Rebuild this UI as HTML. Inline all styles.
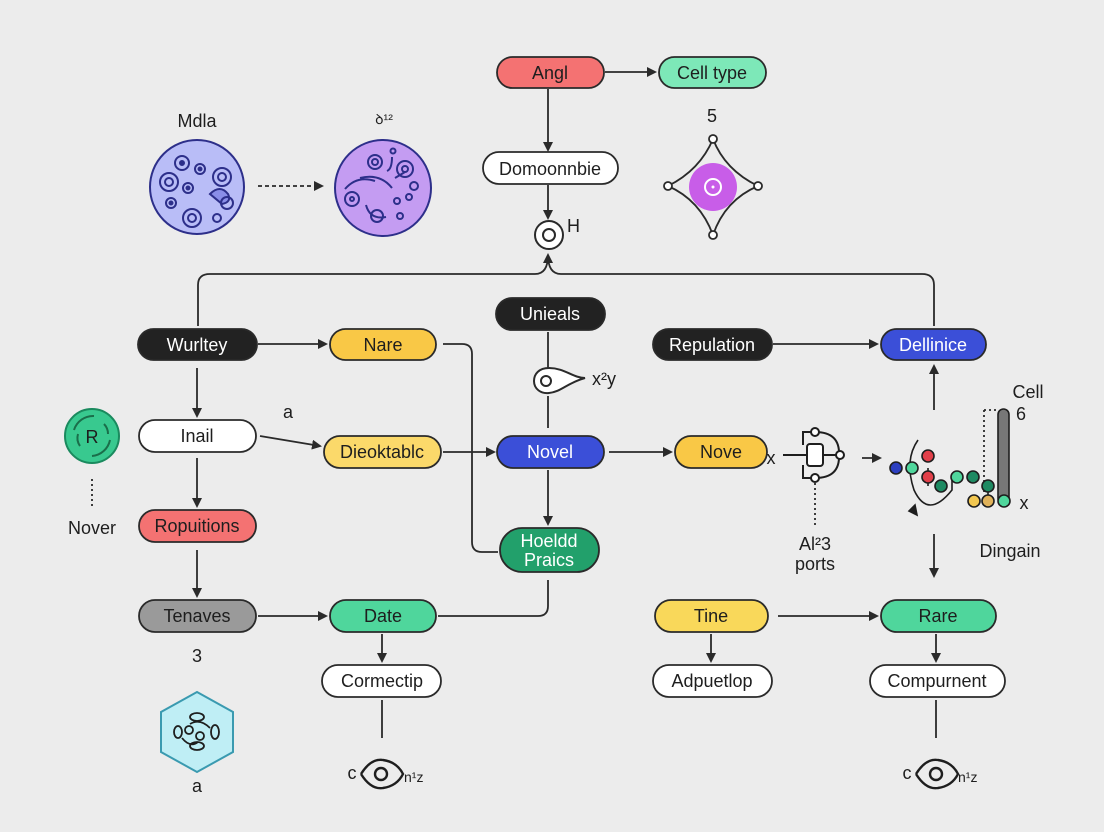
<!DOCTYPE html>
<html><head><meta charset="utf-8"><style>
html,body{margin:0;padding:0;background:#ececec;}
svg{display:block;}
text{font-family:"Liberation Sans","DejaVu Sans",sans-serif;}
</style></head><body>
<svg width="1104" height="832" viewBox="0 0 1104 832" xmlns="http://www.w3.org/2000/svg">
<defs>
<marker id="a" markerWidth="10" markerHeight="10" refX="8" refY="5" orient="auto" markerUnits="userSpaceOnUse"><path d="M0,0 L10,5 L0,10 Z" fill="#2a2a2a"/></marker>
</defs>
<rect width="1104" height="832" fill="#ececec"/>
<g stroke="#2a2a2a" stroke-width="1.8" fill="none">
<line x1="605" y1="72" x2="655" y2="72" marker-end="url(#a)"/>
<line x1="548" y1="89" x2="548" y2="150" marker-end="url(#a)"/>
<line x1="548" y1="185" x2="548" y2="218" marker-end="url(#a)"/>
<path d="M198,326 V285 Q198,274 210,274 H535 Q548,274 548,255" marker-end="url(#a)"/>
<path d="M934,326 V285 Q934,274 922,274 H561 Q548,274 548,255"/>
<line x1="258" y1="186" x2="322" y2="186" stroke-dasharray="4,3" marker-end="url(#a)"/>
<line x1="258" y1="344" x2="326" y2="344" marker-end="url(#a)"/>
<line x1="773" y1="344" x2="877" y2="344" marker-end="url(#a)"/>
<path d="M443,344 H462 Q472,344 472,354 V542 Q472,552 482,552 H498"/>
<line x1="548" y1="332" x2="548" y2="368"/>
<line x1="548" y1="396" x2="548" y2="428"/>
<line x1="197" y1="368" x2="197" y2="416" marker-end="url(#a)"/>
<line x1="260" y1="436" x2="320" y2="446" marker-end="url(#a)"/>
<line x1="443" y1="452" x2="494" y2="452" marker-end="url(#a)"/>
<line x1="609" y1="452" x2="671" y2="452" marker-end="url(#a)"/>
<line x1="548" y1="470" x2="548" y2="524" marker-end="url(#a)"/>
<line x1="197" y1="458" x2="197" y2="506" marker-end="url(#a)"/>
<line x1="197" y1="550" x2="197" y2="596" marker-end="url(#a)"/>
<line x1="258" y1="616" x2="326" y2="616" marker-end="url(#a)"/>
<path d="M438,616 H538 Q548,616 548,606 V580"/>
<line x1="382" y1="634" x2="382" y2="661" marker-end="url(#a)"/>
<line x1="382" y1="700" x2="382" y2="738"/>
<line x1="934" y1="410" x2="934" y2="366" marker-end="url(#a)"/>
<line x1="934" y1="534" x2="934" y2="576" marker-end="url(#a)"/>
<line x1="862" y1="458" x2="880" y2="458" marker-end="url(#a)"/>
<line x1="778" y1="616" x2="877" y2="616" marker-end="url(#a)"/>
<line x1="711" y1="634" x2="711" y2="661" marker-end="url(#a)"/>
<line x1="936" y1="634" x2="936" y2="661" marker-end="url(#a)"/>
<line x1="936" y1="700" x2="936" y2="738"/>
<line x1="92" y1="479" x2="92" y2="508" stroke-dasharray="2,3"/>
<line x1="815" y1="478" x2="815" y2="525" stroke-dasharray="2,3"/>
<path d="M984,410 V495" stroke-dasharray="2,3"/>
<line x1="984" y1="410" x2="996" y2="410" stroke-dasharray="2,3"/>
</g>
<g stroke="#2a2a2a" stroke-width="1.8" font-size="18" text-anchor="middle">
<rect x="497" y="57" width="107" height="31" rx="15.5" fill="#f47272"/>
<rect x="659" y="57" width="107" height="31" rx="15.5" fill="#7de8b8"/>
<rect x="483" y="152" width="135" height="32" rx="16" fill="#fff"/>
<rect x="138" y="329" width="119" height="31" rx="15.5" fill="#222"/>
<rect x="330" y="329" width="106" height="31" rx="15.5" fill="#f9c846"/>
<rect x="496" y="298" width="109" height="32" rx="16" fill="#222"/>
<rect x="653" y="329" width="119" height="31" rx="15.5" fill="#222"/>
<rect x="881" y="329" width="105" height="31" rx="15.5" fill="#3b4fd8"/>
<rect x="139" y="420" width="117" height="32" rx="16" fill="#fff"/>
<rect x="324" y="436" width="117" height="32" rx="16" fill="#fbd96a"/>
<rect x="497" y="436" width="107" height="32" rx="16" fill="#3b4fd8"/>
<rect x="675" y="436" width="92" height="32" rx="16" fill="#f9c846"/>
<rect x="139" y="510" width="117" height="32" rx="16" fill="#f47272"/>
<rect x="500" y="528" width="99" height="44" rx="22" fill="#22a06b"/>
<rect x="139" y="600" width="117" height="32" rx="16" fill="#9a9a9a"/>
<rect x="330" y="600" width="106" height="32" rx="16" fill="#4fd69c"/>
<rect x="655" y="600" width="113" height="32" rx="16" fill="#f9d85a"/>
<rect x="881" y="600" width="115" height="32" rx="16" fill="#4fd69c"/>
<rect x="322" y="665" width="119" height="32" rx="16" fill="#fff"/>
<rect x="653" y="665" width="119" height="32" rx="16" fill="#fff"/>
<rect x="870" y="665" width="135" height="32" rx="16" fill="#fff"/>
</g>
<g font-size="18" text-anchor="middle" fill="#1e1e1e">
<text x="550" y="79">Angl</text>
<text x="712" y="79">Cell type</text>
<text x="550" y="175">Domoonnbie</text>
<text x="197" y="351" fill="#fff">Wurltey</text>
<text x="383" y="351">Nare</text>
<text x="550" y="320" fill="#fff">Unieals</text>
<text x="712" y="351" fill="#fff">Repulation</text>
<text x="933" y="351" fill="#fff">Dellinice</text>
<text x="197" y="442">Inail</text>
<text x="382" y="458">Dieoktablc</text>
<text x="550" y="458" fill="#fff">Novel</text>
<text x="721" y="458">Nove</text>
<text x="197" y="532">Ropuitions</text>
<text x="549" y="547" fill="#fff">Hoeldd</text>
<text x="549" y="566" fill="#fff">Praics</text>
<text x="197" y="622">Tenaves</text>
<text x="383" y="622">Date</text>
<text x="711" y="622">Tine</text>
<text x="938" y="622">Rare</text>
<text x="382" y="687">Cormectip</text>
<text x="712" y="687">Adpuetlop</text>
<text x="937" y="687">Compurnent</text>
<text x="197" y="127">Mdla</text>
<text x="384" y="124" font-size="14">ꝺ¹²</text>
<text x="712" y="122">5</text>
<text x="288" y="418">a</text>
<text x="92" y="534">Nover</text>
<text x="197" y="662">3</text>
<text x="197" y="792">a</text>
<text x="1028" y="398">Cell</text>
<text x="1021" y="420">6</text>
<text x="1024" y="509">x</text>
<text x="1010" y="557">Dingain</text>
<text x="771" y="464">x</text>
<text x="815" y="550">Al²3</text>
<text x="815" y="570">ports</text>
<text x="567" y="232" text-anchor="start">H</text>
<text x="592" y="385" text-anchor="start">x²y</text>
<text x="352" y="779">c</text>
<text x="404" y="782" font-size="14" text-anchor="start">n¹z</text>
<text x="907" y="779">c</text>
<text x="958" y="782" font-size="14" text-anchor="start">n¹z</text>
</g>
<g stroke="#2d2f8a" stroke-width="2" fill="none">
<circle cx="197" cy="187" r="47" fill="#b9bdf7"/>
<circle cx="182" cy="163" r="7"/><circle cx="182" cy="163" r="2" fill="#2d2f8a"/>
<circle cx="169" cy="182" r="9"/><circle cx="169" cy="182" r="4"/>
<circle cx="222" cy="177" r="9"/><circle cx="222" cy="177" r="4"/>
<circle cx="200" cy="169" r="5"/><circle cx="200" cy="169" r="1.5" fill="#2d2f8a"/>
<circle cx="188" cy="188" r="5"/><circle cx="188" cy="188" r="1.5" fill="#2d2f8a"/>
<circle cx="171" cy="203" r="5"/><circle cx="171" cy="203" r="1.5" fill="#2d2f8a"/>
<circle cx="192" cy="218" r="9"/><circle cx="192" cy="218" r="4"/>
<path d="M210,194 q10,-10 18,0 q4,8 -6,10 z" fill="#8a8ee8"/>
<circle cx="227" cy="203" r="6"/><circle cx="217" cy="218" r="4"/>
</g>
<g stroke="#2d2f8a" stroke-width="2" fill="none">
<circle cx="383" cy="188" r="48" fill="#c49cf2"/>
<circle cx="375" cy="162" r="7"/><circle cx="375" cy="162" r="3"/>
<circle cx="405" cy="169" r="8"/><circle cx="405" cy="169" r="3"/>
<circle cx="352" cy="199" r="7"/><circle cx="352" cy="199" r="2"/>
<circle cx="377" cy="216" r="6"/><circle cx="397" cy="201" r="3"/><circle cx="409" cy="197" r="3"/><circle cx="400" cy="216" r="3"/>
<circle cx="393" cy="151" r="2.5"/><circle cx="414" cy="186" r="4"/>
<path d="M345,189 q12,-14 30,-8 M360,178 q20,-5 32,10 M366,205 q4,15 20,12 M392,157 q0,12 -5,14 M395,178 l10,-6"/>
</g>
<g stroke="#2a2a2a" stroke-width="1.8" fill="none">
<path d="M713,139 Q725,170 758,186 Q725,200 713,235 Q700,200 668,186 Q700,170 713,139 Z"/>
<circle cx="713" cy="187" r="24" fill="#c85de8" stroke="none"/>
<circle cx="713" cy="187" r="8" stroke="#fff" stroke-width="2"/>
<circle cx="713" cy="187" r="1.5" fill="#fff" stroke="none"/>
<circle cx="713" cy="139" r="4" fill="#fff"/><circle cx="713" cy="235" r="4" fill="#fff"/>
<circle cx="668" cy="186" r="4" fill="#fff"/><circle cx="758" cy="186" r="4" fill="#fff"/>
</g>
<g stroke="#2a2a2a" stroke-width="2" fill="#fff">
<circle cx="549" cy="235" r="14"/><circle cx="549" cy="235" r="6"/>
<path d="M549,368 c-10,0 -15,6 -15,13 c0,8 7,13 15,12 c12,-1 18,-10 36,-15 c-12,0 -20,-10 -36,-10 z"/>
<circle cx="546" cy="381" r="5"/>
</g>
<g stroke="#1e1e1e" stroke-width="2.4" fill="none">
<path d="M361,774 q10,-16 22,-14 q14,2 20,14 q-6,12 -20,14 q-12,2 -22,-14"/>
<circle cx="381" cy="774" r="6"/>
<path d="M916,774 q10,-16 22,-14 q14,2 20,14 q-6,12 -20,14 q-12,2 -22,-14"/>
<circle cx="936" cy="774" r="6"/>
</g>
<g>
<circle cx="92" cy="436" r="27" fill="#38c98f" stroke="#1a8a5e" stroke-width="2"/>
<path d="M74,430 a20,20 0 0 1 20,-14 M110,440 a20,20 0 0 1 -18,16 M80,446 a14,14 0 0 1 -2,-12 M104,424 a14,14 0 0 1 4,10" stroke="#1a6e4a" stroke-width="2" fill="none"/>
<text x="92" y="443" font-size="18" text-anchor="middle" fill="#1e1e1e">R</text>
</g>
<g stroke="#3a9ab0" stroke-width="2">
<path d="M197,692 L233,712 L233,752 L197,772 L161,752 L161,712 Z" fill="#bfeef5"/>
<g stroke="#1e1e1e" fill="none" stroke-width="1.8"><ellipse cx="197" cy="717" rx="7" ry="4"/><ellipse cx="178" cy="732" rx="4" ry="6"/><ellipse cx="215" cy="732" rx="4" ry="7"/><ellipse cx="197" cy="746" rx="7" ry="4"/><circle cx="189" cy="730" r="4"/><circle cx="200" cy="736" r="4"/><path d="M182,738 q8,10 16,4 M190,724 q10,-6 20,4"/></g>
</g>
<g stroke="#1e1e1e" stroke-width="2" fill="none">
<line x1="783" y1="455" x2="808" y2="455"/>
<path d="M815,432 H803 V445 M815,478 H803 V465"/>
<path d="M815,432 q25,0 24,23 q1,23 -24,23"/>
<rect x="807" y="444" width="16" height="22" rx="3" fill="#fff"/>
<line x1="823" y1="455" x2="838" y2="455"/>
<circle cx="815" cy="432" r="4" fill="#fff"/><circle cx="815" cy="478" r="4" fill="#fff"/><circle cx="840" cy="455" r="4" fill="#fff"/>
</g>
<g stroke="#1e1e1e" stroke-width="1.6">
<path d="M918,440 q-14,20 -4,50 q14,30 38,0 V478" fill="none"/>
<path d="M915,505 l2,10 l-8,-4 z" fill="#1e1e1e"/>
<line x1="928" y1="468" x2="928" y2="486"/>
<line x1="988" y1="490" x2="988" y2="500"/>
<rect x="998" y="409" width="11" height="95" rx="5.5" fill="#777"/>
<circle cx="896" cy="468" r="6" fill="#2c3fc0"/>
<circle cx="912" cy="468" r="6" fill="#4fd69c"/>
<circle cx="928" cy="456" r="6" fill="#e2404a"/>
<circle cx="928" cy="477" r="6" fill="#e2404a"/>
<circle cx="941" cy="486" r="6" fill="#1e8a62"/>
<circle cx="957" cy="477" r="6" fill="#4fd69c"/>
<circle cx="973" cy="477" r="6" fill="#1e8a62"/>
<circle cx="988" cy="486" r="6" fill="#1e8a62"/>
<circle cx="974" cy="501" r="6" fill="#f2c750"/>
<circle cx="988" cy="501" r="6" fill="#e0b25a"/>
<circle cx="1004" cy="501" r="6" fill="#4fd69c"/>
</g>
</svg>
</body></html>
